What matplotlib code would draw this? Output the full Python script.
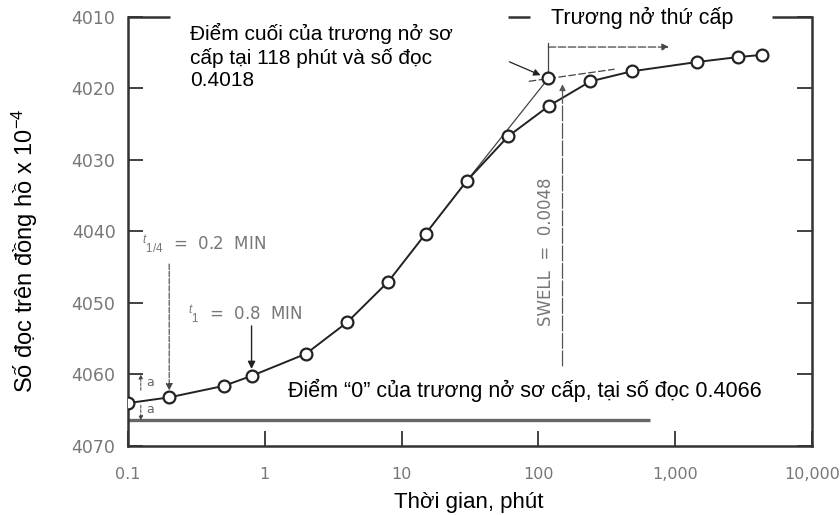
import matplotlib.pyplot as plt
from matplotlib.ticker import NullLocator

plt.rcParams['font.family'] = ['Liberation Sans', 'DejaVu Sans']
plt.rcParams['mathtext.fontset'] = 'custom'
plt.rcParams['mathtext.rm'] = 'Liberation Sans'
plt.rcParams['mathtext.it'] = 'Liberation Sans:italic'

# dial readings (x 10^-4) against elapsed time in minutes
time_min = [0.1, 0.2, 0.5, 0.8, 2, 4, 8, 15, 30, 60, 120, 240, 480, 1440, 2880, 4320]
reading = [4064.0, 4063.2, 4061.6, 4060.2, 4057.1, 4052.7, 4047.0, 4040.3,
           4032.9, 4026.7, 4022.4, 4019.0, 4017.6, 4016.3, 4015.6, 4015.3]

# construction values
end_t, end_r = 118, 4018.6          # end of primary swell
zero_r = 4066.4                     # "0" of primary swell
zero_line_t = [0.1, 650]
flat_tan_t = [85, 360]
flat_tan_r = [4019.0, 4017.3]
swell_t = 150
swell_r = [4058.8, 4019.4]
second_t = [118, 900]
second_r = 4014.2
a_t = 0.124
a_r = [4060.0, 4066.4]

xticks = [0.1, 1, 10, 100, 1000, 10000]
xticklabels = ['0.1', '1', '10', '100', '1,000', '10,000']
yticks = [4010, 4020, 4030, 4040, 4050, 4060, 4070]

ink = '#222222'
grey = '#666666'

fig = plt.figure(figsize=(8.4, 5.15), dpi=100)
ax = fig.add_axes([0.1524, 0.134, 0.8143, 0.833])

ax.set_xscale('log')
ax.set_xlim(0.1, 10000)
ax.set_ylim(4070, 4010)
ax.set_xticks(xticks, xticklabels)
ax.xaxis.set_minor_locator(NullLocator())
ax.set_yticks(yticks)
ax.tick_params(direction='in', length=11, width=1.3, color='#333333',
               labelcolor='#777777', labelsize=12.5, right=True)
ax.tick_params(axis='x', pad=15, labelsize=11.5)
ax.tick_params(axis='y', pad=9)
for lab in ax.get_xticklabels() + ax.get_yticklabels():
    lab.set_family('DejaVu Sans')

for side in ['left', 'right', 'bottom']:
    ax.spines[side].set_linewidth(1.8)
    ax.spines[side].set_color('#333333')
ax.spines['top'].set_visible(False)
# top frame is broken by the text boxes
for x0, x1 in [(0, 0.061), (0.556, 0.588), (0.942, 1.0)]:
    ax.plot([x0, x1], [1, 1], color='#333333', lw=1.8, transform=ax.transAxes,
            clip_on=False, solid_capstyle='butt')

# zero line
ax.plot(zero_line_t, [zero_r, zero_r], color=grey, lw=2.4, solid_capstyle='butt')

# tangents
ax.plot([time_min[8], end_t], [reading[8], end_r], color='#444444', lw=0.9)
ax.plot(flat_tan_t, flat_tan_r, color='#444444', lw=0.9, ls=(0, (6, 2)))

# swell curve
ax.plot(time_min, reading, '-o', color=ink, lw=1.4, ms=8.5, mfc='white',
        mew=1.6, zorder=3)
ax.plot([end_t], [end_r], 'o', color=ink, ms=8.5, mfc='white', mew=1.6, zorder=3)

# swell dimension
ax.annotate('', xy=(swell_t, swell_r[1]), xytext=(swell_t, swell_r[0]),
            arrowprops=dict(arrowstyle='-|>', color='#555555', lw=0.9,
                            ls=(0, (12, 2)), mutation_scale=9, shrinkA=0, shrinkB=0))
ax.text(114, 4042.8, 'SWELL  =  0.0048', rotation=90, ha='center', va='center',
        fontsize=12, color='#777777', family='DejaVu Sans')

# secondary swell arrow
ax.plot([end_t, end_t], [4013.6, 4017.6], color='#444444', lw=0.9)
ax.annotate('', xy=(second_t[1], second_r), xytext=(second_t[0], second_r),
            arrowprops=dict(arrowstyle='-|>', color='#444444', lw=0.9,
                            ls=(0, (6, 2)), mutation_scale=10, shrinkA=0, shrinkB=0))

# pointer to end of primary swell
ax.annotate('', xy=(end_t, end_r), xytext=(-28, 12), textcoords='offset points',
            arrowprops=dict(arrowstyle='-|>', color=ink, lw=0.9,
                            mutation_scale=10, shrinkA=0, shrinkB=6))

# t1/4 and t1 arrows
ax.annotate('', xy=(time_min[1], reading[1]), xytext=(0, 96), textcoords='offset points',
            arrowprops=dict(arrowstyle='-|>', color='#444444', lw=0.8, ls=(0, (5, 1.5)),
                            mutation_scale=10, shrinkA=0, shrinkB=5))
ax.annotate('', xy=(time_min[3], reading[3]), xytext=(0, 36), textcoords='offset points',
            arrowprops=dict(arrowstyle='-|>', color=ink, lw=1.0,
                            mutation_scale=11, shrinkA=0, shrinkB=5))
ax.text(0.020, 0.4685, r'$^{t}{}_{1/4}$  =  0.2  MIN', transform=ax.transAxes,
        fontsize=12, color='#777777', va='center', family='DejaVu Sans')
ax.text(0.088, 0.305, r'$^{t}{}_{1}$  =  0.8  MIN', transform=ax.transAxes,
        fontsize=12, color='#777777', va='center', family='DejaVu Sans')

# "a" dimensions
ax.annotate('', xy=(a_t, a_r[0]), xytext=(a_t, 4062.2),
            arrowprops=dict(arrowstyle='-|>', color='#444444', lw=0.7,
                            ls=(0, (3, 1.5)), mutation_scale=6, shrinkA=0, shrinkB=0))
ax.annotate('', xy=(a_t, a_r[1]), xytext=(a_t, 4064.3),
            arrowprops=dict(arrowstyle='-|>', color='#444444', lw=0.7,
                            ls=(0, (3, 1.5)), mutation_scale=6, shrinkA=0, shrinkB=0))
ax.text(0.135, 4061.1, 'a', fontsize=9, color='#666666', va='center', family='DejaVu Sans')
ax.text(0.135, 4064.9, 'a', fontsize=9, color='#666666', va='center', family='DejaVu Sans')

# Vietnamese annotations
ax.text(0.0906, 0.985, 'Điểm cuối của trương nở sơ\ncấp tại 118 phút và số đọc\n0.4018',
        transform=ax.transAxes, fontsize=15, va='top', ha='left', linespacing=1.2)
ax.text(0.751, 0.998, 'Trương nở thứ cấp', transform=ax.transAxes,
        fontsize=15.5, va='center', ha='center')
ax.text(0.234, 0.13, 'Điểm “0” của trương nở sơ cấp, tại số đọc 0.4066',
        transform=ax.transAxes, fontsize=15.5, va='center', ha='left')

fig.text(0.030, 0.5126, 'Số đọc trên đồng hồ x 10$^{-4}$', rotation=90,
         ha='center', va='center', fontsize=17)
fig.text(0.558, 0.024, 'Thời gian, phút', ha='center', va='center', fontsize=16)

fig.savefig('out.png', dpi=100)
